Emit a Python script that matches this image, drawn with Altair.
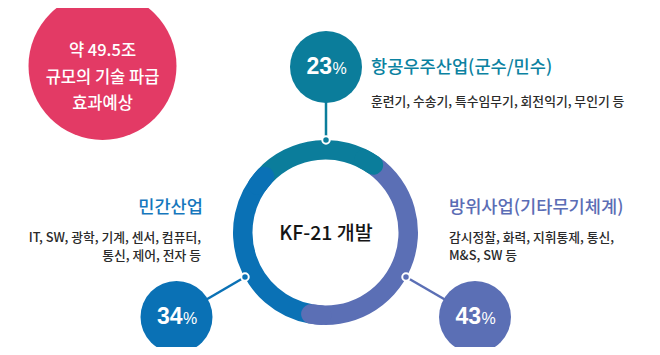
import math
import altair as alt
import pandas as pd

# ---------------- data ----------------
sectors = ["항공우주산업(군수/민수)", "방위사업(기타무기체계)", "민간산업"]
shares = [23, 43, 34]
details = [
    ["훈련기, 수송기, 특수임무기, 회전익기, 무인기 등"],
    ["감시정찰, 화력, 지휘통제, 통신,", "M&S, SW 등"],
    ["IT, SW, 광학, 기계, 센서, 컴퓨터,", "통신, 제어, 전자 등"],
]
center_label = "KF-21 개발"
note_lines = ["약 49.5조", "규모의 기술 파급", "효과예상"]

# ---------------- styles / layout ----------------
ring_colors = ["#0b7d9b", "#5b6fb5", "#0a71b5"]
title_colors = ["#0b82a1", "#5b6db5", "#1677bd"]
pink = "#e33a65"
FONT = "Noto Sans CJK KR"
NUM_FONT = "Liberation Sans"
W, H = 644, 339
OFF = 8  # page margin


def px(v):
    return v - OFF


CX, CY = px(325.5), px(232.5)
R_OUT, R_IN = 92.5, 73.0
CAP_EXT = ((R_OUT - R_IN) / 2) / ((R_OUT + R_IN) / 2) / (2 * math.pi) * 100  # percent units
ROT = math.radians(-47.4)

bubble_xy = [(326, 67), (475, 317), (176.5, 317)]
dot_xy = [(326, 140), (406, 277), (245, 277)]
title_xy = [(371, 68, "left"), (449, 208, "left"), (203, 208, "right")]
sub_xy = [(371, 102, "left"), (449, 237.5, "left"), (201, 238, "right")]
SUB_LH = 18
BUBBLE_R = 36
note_center = (102.5, 66)
NOTE_R = 74
note_y = [51, 77.5, 104]

# ---------------- tables ----------------
ends = []
acc = 0
for s in shares:
    ends.append((acc, acc + s))
    acc += s

ring = pd.DataFrame({
    "sector": sectors,
    "share": shares,
    "start": [e[0] for e in ends],
    "end": [e[1] for e in ends],
    "color": ring_colors,
})
caps = ring.copy()
caps["cstart"] = caps["end"] - 4
caps["cend"] = caps["end"] + CAP_EXT

theta_scale = alt.Scale(domain=[0, 100], range=[ROT, ROT + 2 * math.pi])

base = alt.Chart(ring).mark_arc(outerRadius=R_OUT, innerRadius=R_IN).encode(
    theta=alt.Theta("start:Q", scale=theta_scale),
    theta2=alt.Theta2("end:Q"),
    color=alt.Color("color:N", scale=None),
    x=alt.value(CX),
    y=alt.value(CY),
)
cap_layer = alt.Chart(caps).mark_arc(
    outerRadius=R_OUT, innerRadius=R_IN, cornerRadius=(R_OUT - R_IN) / 2
).encode(
    theta=alt.Theta("cstart:Q", scale=theta_scale),
    theta2=alt.Theta2("cend:Q"),
    color=alt.Color("color:N", scale=None),
    x=alt.value(CX),
    y=alt.value(CY),
)

lay = pd.DataFrame({
    "sector": sectors,
    "share": [str(s) for s in shares],
    "pct": ["%"] * 3,
    "color": ring_colors,
    "tcolor": title_colors,
    "bx": [px(b[0]) for b in bubble_xy],
    "by": [px(b[1]) for b in bubble_xy],
    "dx": [px(d[0]) for d in dot_xy],
    "dy": [px(d[1]) for d in dot_xy],
})

X = lambda f: alt.X(f, scale=None, axis=None)
Y = lambda f: alt.Y(f, scale=None, axis=None)

connectors = alt.Chart(lay).mark_rule(strokeWidth=2.5).encode(
    x=X("bx:Q"), y=Y("by:Q"), x2="dx:Q", y2="dy:Q",
    color=alt.Color("color:N", scale=None),
)
dots = alt.Chart(lay).mark_point(filled=True, shape="circle", size=56, stroke="white",
                                 strokeWidth=2, opacity=1).encode(
    x=X("dx:Q"), y=Y("dy:Q"),
    fill=alt.Fill("color:N", scale=None),
)
bubbles = alt.Chart(lay).mark_point(filled=True, shape="circle", size=(2 * BUBBLE_R) ** 2,
                                    opacity=1, strokeWidth=0).encode(
    x=X("bx:Q"), y=Y("by:Q"),
    fill=alt.Fill("color:N", scale=None),
)
num_txt = alt.Chart(lay).transform_calculate(
    nx="datum.bx + 6", ny="datum.by + 7"
).mark_text(font=NUM_FONT, fontSize=23, fontWeight="bold", color="white",
            align="right", baseline="alphabetic").encode(
    x=X("nx:Q"), y=Y("ny:Q"), text="share:N",
)
pct_txt = alt.Chart(lay).transform_calculate(
    nx="datum.bx + 6.5", ny="datum.by + 7"
).mark_text(font=NUM_FONT, fontSize=16, color="white",
            align="left", baseline="alphabetic").encode(
    x=X("nx:Q"), y=Y("ny:Q"), text="pct:N",
)

titles_df = pd.DataFrame({
    "text": sectors,
    "x": [px(t[0]) for t in title_xy],
    "y": [px(t[1]) for t in title_xy],
    "align": [t[2] for t in title_xy],
    "color": title_colors,
})
title_layers = []
for al in ["left", "right"]:
    title_layers.append(
        alt.Chart(titles_df[titles_df["align"] == al]).mark_text(
            font=FONT, fontSize=17.6, fontWeight=500, align=al, baseline="middle"
        ).encode(x=X("x:Q"), y=Y("y:Q"), text="text:N", color=alt.Color("color:N", scale=None))
    )

sub_rows = []
for i, lines in enumerate(details):
    sx, sy, al = sub_xy[i]
    for j, line in enumerate(lines):
        sub_rows.append({"text": line, "x": px(sx), "y": px(sy + j * SUB_LH), "align": al})
subs_df = pd.DataFrame(sub_rows)
sub_layers = []
for al in ["left", "right"]:
    sub_layers.append(
        alt.Chart(subs_df[subs_df["align"] == al]).mark_text(
            font=FONT, fontSize=12.8, fontWeight=500, align=al, baseline="middle", color="#2a2a2a"
        ).encode(x=X("x:Q"), y=Y("y:Q"), text="text:N")
    )

center_txt = alt.Chart(pd.DataFrame({"t": [center_label]})).mark_text(
    font=FONT, fontSize=19.5, fontWeight=500, color="#151515", align="center", baseline="middle"
).encode(x=alt.value(px(326)), y=alt.value(px(234)), text="t:N")

note_circle = alt.Chart(pd.DataFrame({"x": [px(note_center[0])], "y": [px(note_center[1])]})).mark_point(
    filled=True, shape="circle", size=(2 * NOTE_R) ** 2, color=pink, opacity=1, strokeWidth=0
).encode(x=X("x:Q"), y=Y("y:Q"))

note_df = pd.DataFrame({"t": note_lines, "x": [px(note_center[0])] * 3, "y": [px(v) for v in note_y]})
note_txt = alt.Chart(note_df).mark_text(
    font=FONT, fontSize=16.5, fontWeight=500, color="white", align="center", baseline="middle"
).encode(x=X("x:Q"), y=Y("y:Q"), text="t:N")

chart = alt.layer(
    note_circle, note_txt, connectors, base, cap_layer, dots, bubbles, num_txt, pct_txt,
    *title_layers, *sub_layers, center_txt,
).properties(
    width=W, height=H, padding=0, autosize=alt.AutoSizeParams(type="none"), background="white"
).configure_view(stroke=None)

chart.save("out.html", embed_options={"renderer": "svg", "actions": False})
